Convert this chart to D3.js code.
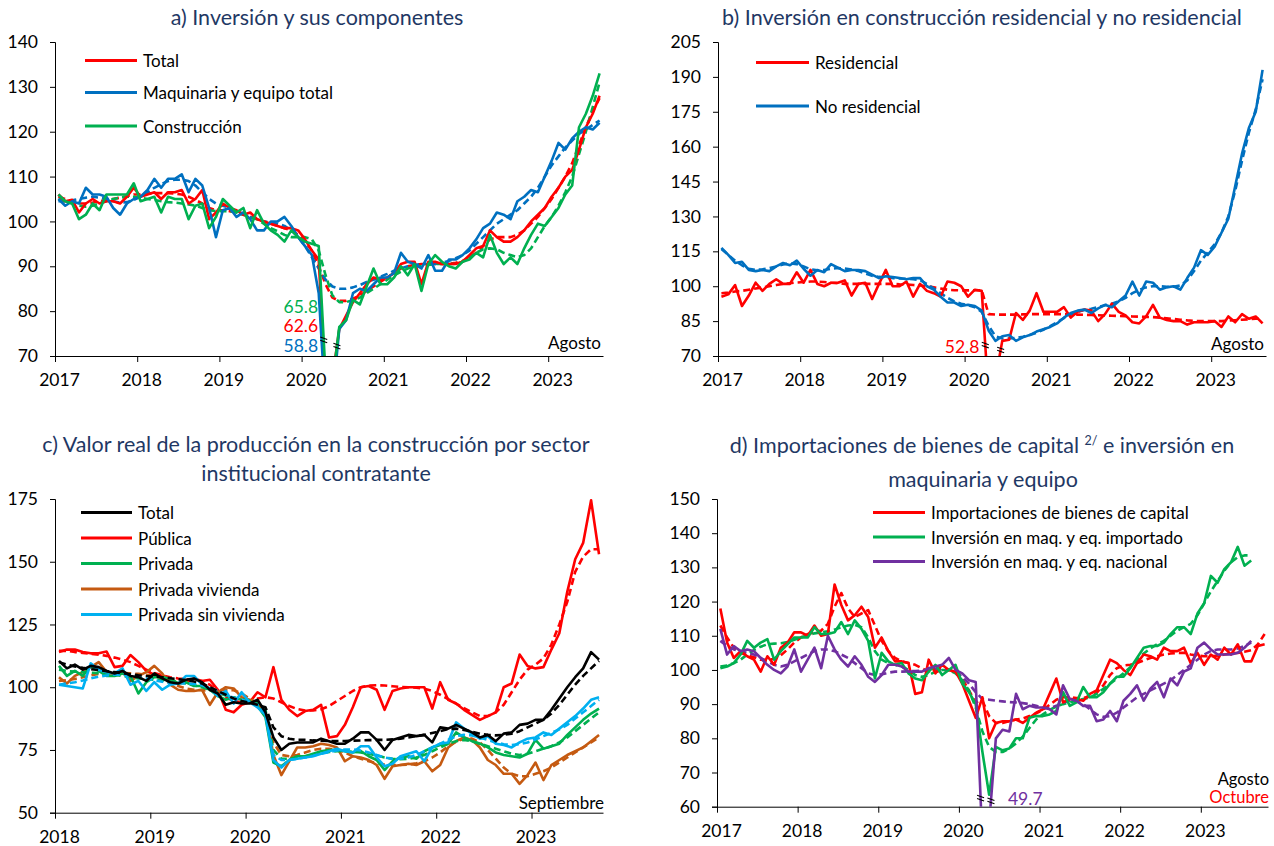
<!DOCTYPE html>
<html>
<head>
<meta charset="utf-8">
<script src="https://cdn.jsdelivr.net/npm/d3@7"></script>
<style>
  body { margin: 0; background: #fff; }
  svg { display: block; }
  text { font-family: Lato, "Open Sans", "DejaVu Sans", sans-serif; }
</style>
</head>
<body>
<svg id="chart" width="1274" height="846"></svg>
<script>
// ---------- Panel a: Inversión y sus componentes (ene 2017 – ago 2023) ----------
const yearsA = ["2017", "2018", "2019", "2020", "2021", "2022", "2023"];
const totalA = [
  106, 104.5, 104.8, 102, 104, 105, 104, 104.5, 104.5, 104, 105.5, 107.5,
  105.5, 106, 106.5, 105, 106.5, 106.5, 107, 104, 105, 107, 100.5, 102,
  104, 103, 102.5, 101.5, 102, 100.5, 100, 99.5, 99, 98.5, 98.5, 98,
  96, 93.5, 91.5, 62.6, 65, 76, 79, 82, 84, 86, 87.5, 87,
  87.5, 88.5, 90.5, 91, 91, 86, 91, 91, 90.5, 90.5, 90.5, 91,
  92.5, 94, 94.5, 98, 96.5, 95.5, 95.5, 96.5, 98, 100, 101.5, 103,
  105.5, 107.5, 110, 111.5, 116, 121, 124, 128
];
const totalTrendA = [
  105.5, 105, 104.5, 104, 104, 104.2, 104.5, 104.8, 105, 105.3, 105.6, 106,
  106, 106.2, 106.3, 106.3, 106.3, 106.2, 106, 105.5, 104.8, 104, 103, 102.5,
  102.5, 102.3, 102, 101.5, 101, 100.5, 100, 99.5, 99, 98.5, 98, 97,
  95.5, 93.5, 90, 86, 83, 82.3, 82.3, 82.8, 83.5, 84.5, 85.5, 86.5,
  87.5, 88.5, 89.5, 90, 90.3, 90.5, 90.5, 90.5, 90.5, 90.5, 90.8, 91.2,
  92, 93, 94.5, 96, 96.5, 96.5, 96.5, 97, 98, 99.5, 101, 103,
  105, 107.5, 110, 113, 117, 121, 124.5, 127.5
];
const maqA = [
  105, 103.5, 104.5, 104, 107.5, 106, 106, 105.5, 103, 101.5, 104, 105,
  105.5, 107, 109.5, 107.5, 109.5, 109.5, 110.5, 106.5, 109.5, 108, 103, 96.5,
  102.5, 103, 101, 102, 100.5, 98, 98, 100, 100, 101, 99, 96.5,
  94.5, 92.5, 84, 58.8, 60, 76, 78, 84, 85, 84.5, 86, 87.5,
  87.5, 88.5, 93, 91, 90.5, 89.5, 92.5, 89, 89, 91.5, 91.5, 92.5,
  94, 96, 98.5, 99.5, 102, 101.5, 100.5, 104.5, 105.5, 107, 106.5, 110,
  113.5, 117.5, 116, 118.5, 120, 121, 120.5, 122
];
const maqTrendA = [
  104.5, 104.5, 104.7, 105, 105.3, 105.5, 105.3, 105, 104.5, 104.2, 104.3, 104.8,
  105.5, 106.5, 107.5, 108.3, 109, 109.3, 109.3, 109, 108, 106.5, 105, 104,
  103.5, 103, 102.3, 101.7, 101, 100.5, 100, 99.8, 99.5, 99, 98, 96.5,
  94.5, 92, 89.5, 87, 85.5, 85, 85, 85.3, 85.8, 86.5, 87, 87.7,
  88.3, 89, 89.5, 90, 90.3, 90.5, 90.5, 90.5, 90.8, 91.2, 91.8, 92.5,
  93.5, 95, 96.5, 98, 99.5, 100.5, 101.5, 102.5, 104, 105.5, 107.5, 110,
  112.5, 114.5, 116.5, 118, 119.5, 120.5, 121.5, 122.5
];
const consA = [
  106, 104.5, 104, 100.5, 101.5, 104, 102.5, 106, 106, 106, 106, 108.5,
  104.5, 105, 105.5, 102, 105.5, 105, 105, 100.5, 103.5, 104, 98.5, 101,
  105, 103.5, 102, 103, 98.5, 102.5, 99.5, 98, 97, 95.5, 98, 96.5,
  95.5, 95, 94.5, 65.8, 64, 76.5, 78, 82.5, 81.5, 85.5, 89.5, 86,
  86, 87.5, 90, 88, 90.5, 84.5, 90.5, 92.5, 91, 90, 89.5, 91,
  91.5, 93, 92, 97, 93, 90.5, 92, 90.5, 94, 97, 99.5, 99,
  101, 103, 106, 108, 121, 124, 128, 133
];
const consTrendA = [
  105, 104.5, 104, 103.5, 103.3, 103.5, 104, 104.5, 105, 105.3, 105.5, 105.5,
  105.3, 105, 104.8, 104.5, 104.3, 104.2, 104, 103.8, 103.5, 103, 102.5, 102.3,
  102.3, 102.3, 102, 101.5, 101, 100.5, 99.5, 98.5, 97.8, 97, 96.5, 96.5,
  96.5, 96, 93.5, 88, 83.5, 82, 82, 82.5, 83, 84, 85, 86,
  87, 88, 88.8, 89.5, 90, 90, 90.3, 90.5, 90.5, 90.5, 90.5, 91,
  92, 93, 93.8, 94, 93.8, 93, 92.5, 92, 92.5, 94, 96.5, 99,
  101, 103.5, 106.5, 110, 115, 120, 125.5, 131
];

// ---------- Panel b: construcción residencial y no residencial ----------
const yearsB = ["2017", "2018", "2019", "2020", "2021", "2022", "2023"];
const resB = [
  95.5, 96.5, 100.5, 91.5, 96, 101.5, 98, 101, 103, 101, 101, 106,
  101.5, 107, 101, 100, 101.5, 101.5, 102.5, 96, 101, 101.5, 94.5, 101,
  107, 100, 100, 102, 95.5, 101, 98, 97, 95.5, 102, 101.5, 100,
  95.5, 98.5, 98, 52.8, 60, 76.5, 77, 88.5, 85.5, 89.5, 97, 89,
  89, 89, 91, 86.5, 89, 90, 89.5, 85, 88, 92.5, 89, 87.5,
  84.5, 84, 87, 92, 86.5, 85.5, 85, 85, 83.5, 84.5, 84.5, 84.5,
  85, 82.5, 87, 84.5, 88, 86, 87, 84
];
const resTrendB = [
  97, 97.3, 97.7, 98, 98.5, 99, 99.5, 100, 100.5, 101, 101.3, 101.6,
  101.8, 102, 102, 101.8, 101.5, 101.3, 101, 101, 101, 101, 101, 101,
  101, 101, 100.8, 100.7, 100.5, 100.3, 100, 99.5, 99, 98.5, 98.3, 98.2,
  98.2, 98.3, 98.3, 88, 87.8, 87.8, 87.8, 87.8, 87.9, 88, 88, 88,
  88, 88, 88, 87.9, 87.8, 87.7, 87.6, 87.5, 87.4, 87.3, 87.2, 87.1,
  87, 86.9, 86.8, 86.7, 86.5, 86.2, 85.9, 85.6, 85.3, 85.1, 85, 85,
  85, 85, 85.2, 85.4, 85.6, 85.8, 86, 86
];
const noResB = [
  116.5, 113.5, 110, 110.5, 107, 106.5, 107, 106.5, 108.5, 110, 109, 111,
  107.5, 104.5, 107, 106, 109.5, 108, 106.5, 107, 107, 106.5, 105, 103.5,
  104.3, 104, 103.5, 103, 103.5, 103.5, 100, 98.5, 95.5, 93, 93, 91.5,
  92, 91.5, 89.5, 81, 76.5, 78.5, 79, 76.5, 78, 79, 80.5, 81.5,
  82.5, 84, 86.5, 88.5, 89.5, 90, 88.5, 90.5, 92, 91, 93.5, 96,
  102, 96, 102, 101.5, 98.5, 99.5, 100, 98.5, 103.5, 108, 115.5, 113.5,
  117, 123, 129, 143, 157, 168, 175, 193
];
const noResTrendB = [
  116, 113.5, 111, 109, 107.5, 107, 107.3, 107.8, 108.5, 109.3, 109.8, 109.5,
  108.5, 107.3, 106.8, 107, 107.5, 107.8, 107.6, 107.2, 106.5, 105.5, 104.5, 104,
  103.8, 103.5, 103.3, 103.2, 103, 102.6, 101, 99, 97, 95, 93.5, 92.5,
  91.8, 91, 89, 83, 78.5, 77.5, 77.5, 77.8, 78.3, 79, 80, 81.3,
  82.8, 84.5, 86.3, 87.8, 89, 89.8, 90.3, 91, 91.8, 92.5, 93.5, 95,
  97, 98.5, 99.5, 100, 100, 99.8, 99.8, 100.3, 102.5, 106.5, 111, 114.5,
  118, 123, 130, 141, 154, 166, 176, 189
];

// ---------- Panel c: valor real de la producción (ene 2018 – sep 2023) ----------
const yearsC = ["2018", "2019", "2020", "2021", "2022", "2023"];
const totalC = [
  110.5, 107.5, 109, 107, 108.5, 108, 106.5, 105.5, 106.5, 104.5, 104, 102.5,
  105.5, 103.5, 102, 101.5, 103, 103.5, 102, 99, 97.5, 93, 94, 93.5,
  93.5, 95, 90, 80, 75, 77.5, 78, 78, 78, 79.5, 78.5, 77.5,
  77.5, 79.5, 82, 82, 79, 75, 79, 80, 81, 80.5, 81, 78,
  84, 83.5, 85, 83.5, 82, 80, 81, 78.5, 81.5, 82, 85, 85.5,
  87, 87, 91, 95.5, 100, 104, 107.5, 114, 111
];
const totalTrendC = [
  110, 109, 108.3, 107.7, 107.2, 106.8, 106.4, 106, 105.6, 105.2, 104.8, 104.5,
  104.3, 104, 103.6, 103.2, 102.8, 102.3, 101.5, 100, 98.5, 97, 95.5, 94.5,
  93.8, 93, 92, 84, 80.5, 79.5, 79, 79, 78.8, 78.7, 78.6, 78.6,
  78.6, 78.7, 78.8, 78.9, 79, 79, 79.2, 79.5, 80, 80.5, 81, 81.8,
  82.5, 83.3, 83.5, 83, 82.3, 81.5, 81, 80.8, 81, 81.5, 82.5, 84,
  85.5, 87, 89.5, 93, 97, 101, 104.5, 107.5, 110.5
];
const publicaC = [
  114, 115, 115, 114, 113.5, 113.5, 114.2, 108, 108.5, 112.8, 110, 106.5,
  105, 104.5, 103, 101.5, 102, 103.5, 102.5, 103, 99, 91, 90, 93,
  94, 98, 96, 108, 95, 91, 88.5, 90.5, 91, 93, 80, 80.5,
  85, 92, 100, 100.5, 99, 91, 98.5, 99.5, 100, 100, 100, 91.5,
  102, 95, 93.5, 91, 89, 87, 88.5, 90, 100, 101.5, 113, 108.5,
  107.5, 108, 115, 121.5, 138, 151, 157.5, 174.5, 153
];
const publicaTrendC = [
  114.5, 114.5, 114, 113.7, 113.3, 113, 112.5, 111.8, 111, 110, 108.5, 107,
  105.7, 104.7, 104, 103.5, 103.2, 103, 102.5, 101, 98.5, 96, 94.5, 94,
  94.5, 95.5, 96, 95.5, 94, 92.5, 91.3, 90.7, 90.7, 91.2, 92.5, 94.5,
  96.5, 98.5, 100, 100.7, 100.8, 100.7, 100.4, 100.1, 100, 99.8, 99.4, 98.5,
  97, 95.3, 93.5, 91.7, 90, 88.5, 88.5, 90, 93, 98, 103, 107,
  109, 111.5, 117, 125, 134, 146, 152, 155, 155
];
const privadaC = [
  108.5, 104.5, 106.5, 104.5, 108.5, 106.5, 104.5, 104.5, 105.5, 104.5, 97.5, 102,
  104, 104, 103.5, 101.5, 102, 100.5, 100.5, 99, 96.5, 95, 96, 95,
  94.5, 92.5, 88, 70, 68.5, 71, 72.5, 72.5, 73.5, 74.5, 75, 75,
  74.5, 74, 74.5, 72.5, 71, 67, 70.5, 72, 72.5, 71.5, 74.5, 76,
  77, 77.5, 82, 80, 78.5, 77.5, 76, 74, 73, 72.5, 72, 73.5,
  79, 75.5, 76.5, 77.5, 81, 84, 87, 89.5, 91.5
];
const privadaTrendC = [
  107, 106.5, 106.2, 106, 105.8, 105.6, 105.4, 105, 104.5, 104, 103.5, 103.2,
  103, 102.8, 102.5, 102, 101.5, 100.8, 100, 99, 97.8, 96.7, 95.8, 95.2,
  94.7, 93.8, 91, 75, 71.5, 71.5, 72, 72.5, 73.2, 73.8, 74.2, 74.5,
  74.5, 74.3, 74, 73.5, 72.8, 72, 71.5, 71.3, 71.5, 72, 73, 74.5,
  76, 77.5, 78.5, 79, 78.5, 77.5, 76.5, 75.5, 74.5, 73.5, 73, 73.5,
  74.5, 75.5, 76.5, 78, 80, 82.5, 85, 87.5, 90
];
const viviendaC = [
  104, 101.5, 104.5, 106, 108, 110, 106, 105, 106, 102.5, 104.5, 106,
  108.5, 105.5, 101, 99, 98.5, 98.5, 99, 93, 98, 100, 99.5, 96,
  95, 93.5, 90.5, 73, 65, 70.5, 76, 76, 76.5, 77.5, 77, 76,
  70.5, 72.5, 72, 71, 69, 63.5, 68.5, 69, 69.5, 69, 70.5, 66.5,
  69, 76, 78.5, 80, 79, 76, 71, 69, 65.5, 65.5, 61.5, 65,
  70, 63, 69, 71, 73, 74.5, 76, 78.5, 81
];
const viviendaTrendC = [
  102.5, 102.8, 103.3, 104, 104.7, 105.3, 105.7, 105.8, 105.7, 105.5, 105.3, 105,
  104.5, 103.5, 102, 100.5, 99.5, 99, 98.8, 98.7, 98.8, 99, 98.8, 97.5,
  95.5, 93.5, 89, 78, 73, 72.5, 73, 74, 75, 75.5, 75.5, 75,
  74, 72.5, 71.5, 70.5, 69.8, 69.2, 69, 69, 69.2, 69.7, 70.5, 72,
  74, 76.5, 78.3, 79.5, 79.5, 78, 75, 71.5, 68, 65.5, 64.5, 64.5,
  65.5, 66.5, 68, 70, 72, 74, 76, 78, 80
];
const sinViviendaC = [
  101, 100.5, 100, 99.5, 109.5, 107, 106, 105.5, 107.5, 101, 102.5, 98.5,
  102, 99, 101, 101.5, 104.5, 104.5, 101, 99.5, 96.5, 98.5, 93.5, 98,
  94, 92, 89, 71, 68, 71, 71.5, 72, 72.5, 73.5, 74.5, 75.5,
  74.5, 74, 76.5, 76.5, 72, 68.5, 69.5, 72.5, 73.5, 74.5, 70.5, 76,
  77.5, 78, 86, 83.5, 81.5, 79.5, 80.5, 77.5, 77, 76, 78, 79.5,
  80, 82, 81, 83.5, 86, 88.5, 91.5, 95, 96
];
const sinViviendaTrendC = [
  101, 101.5, 102, 102.7, 103.5, 104.2, 104.7, 105, 105, 104.7, 104.2, 103.5,
  102.8, 102.2, 101.8, 101.6, 101.5, 101.3, 100.8, 99.8, 98.5, 97, 95.8, 95,
  94.2, 93, 89.5, 73, 71, 71, 71.5, 72, 72.7, 73.5, 74.2, 74.8,
  75.2, 75.2, 74.8, 74, 73, 72, 71.5, 71.5, 72, 73, 74.5, 76,
  77.5, 79, 80.5, 81, 80.8, 80, 79, 78, 77.3, 77, 77.3, 78,
  79.2, 80.5, 81.8, 83.2, 85, 87.5, 90, 92.5, 95
];

// ---------- Panel d: importaciones e inversión en maquinaria ----------
const yearsD = ["2017", "2018", "2019", "2020", "2021", "2022", "2023"];
const importD = [
  118, 108, 103.5, 105.5, 104, 103, 99.5, 104, 101.5, 106.5, 108, 111,
  111, 110, 113, 110, 110.5, 125, 119, 114.5, 116, 118.5, 115.5, 106.5,
  109.5, 105.5, 102.5, 102.5, 102, 93, 93.5, 103, 99, 101.5, 100, 99.5,
  96, 91, 86, 92, 80, 84.5, 85, 85, 85.5, 84.5, 86, 87.5,
  88.5, 93, 97.5, 90.5, 91.5, 91.5, 91, 93, 94, 98.5, 103, 102,
  100, 98.5, 102, 104.5, 104, 103, 106.5, 105.5, 105.5, 106.5, 102, 105,
  101.5, 104.5, 103, 106.5, 104.5, 107.5, 102.5, 102.5, 107, 107.5
];
const importTrendD = [
  113, 109.5, 106.5, 105, 104.3, 103.7, 103, 102.8, 103.3, 104.3, 106, 108,
  109.5, 110.5, 111, 111.5, 113.5, 118.5, 122.5, 118, 115.5, 116.5, 117.5, 113,
  108.5, 105.5, 103.5, 102.5, 102, 101.5, 100.5, 99.5, 99.5, 99.8, 100, 99.5,
  97.5, 94, 90.5, 91, 86.5, 84.5, 84.5, 85, 85.5, 85.8, 86.5, 87.3,
  88.3, 89.8, 91.3, 92, 92, 91.8, 91.8, 92.2, 93.3, 95.5, 98.5, 100.5,
  101.3, 101.5, 102, 102.8, 103.5, 104, 104.5, 104.8, 105, 105, 104.5, 104.2,
  104, 104, 104.2, 104.5, 104.8, 105, 105.3, 105.8, 107.5, 110.5
];
const importadoD = [
  100.5, 101, 102, 104.5, 108.5, 106.5, 108, 109, 103, 105.5, 107.5, 109.5,
  109.5, 109.5, 112.5, 110.5, 110.5, 111, 114, 110.5, 114.5, 112, 108.5, 97.5,
  105, 102.5, 101.5, 102, 99, 97.5, 97, 99.5, 101.5, 98.5, 100, 101.5,
  96, 93.5, 90, 76, 63.5, 77.5, 76.5, 77, 80, 80, 86, 86.5,
  86.5, 87, 88, 93.5, 89.5, 90.5, 95, 92, 92, 93.5, 96, 98,
  98, 100.5, 103.5, 106.5, 107, 107, 108, 110.5, 112.5, 112.5, 110.5, 116.5,
  119.5, 127.5, 125.5, 129.5, 131.5, 136, 130.5, 132
];
const importadoTrendD = [
  101, 101.3, 102, 103, 104.5, 105.8, 106.8, 107.5, 107.7, 107.8, 108.2, 108.8,
  109.5, 110.2, 110.7, 111, 111.3, 111.8, 112.5, 113, 113.2, 112.5, 109.5, 105.5,
  103, 102, 101.5, 101, 100, 98.5, 98, 98.5, 99.5, 100, 100, 99,
  97, 94, 89, 82, 77.5, 76, 76, 77, 78.5, 80.5, 83, 85.5,
  87, 88.3, 89.3, 90, 90.5, 91, 91.5, 92, 93, 94.5, 96, 97.5,
  99, 100.8, 102.8, 104.8, 106.3, 107.5, 108.5, 110, 111.5, 112.5, 113.5, 116,
  119.5, 123, 126, 129, 131.5, 133, 133.5, 133.5
];
const nacionalD = [
  112, 104.5, 107, 105.5, 106, 105.5, 103.5, 101.5, 100, 99, 101, 106,
  99.5, 103, 106.5, 100.5, 110, 106, 103, 101, 104, 101.5, 98, 96.5,
  98.5, 101.5, 101.5, 101, 99.5, 99.5, 99.5, 100.5, 101, 101.5, 103.5, 100,
  99, 97, 96.5, 49.7, 55, 80, 82.5, 82, 93, 88.5, 89.5, 89,
  89, 88.5, 87, 95.5, 91.5, 91, 89.5, 89.5, 85, 85.5, 88, 85,
  91, 93, 95.5, 91, 94.5, 96.5, 92, 97.5, 95.5, 99.5, 100.5, 106.5,
  108, 106, 104.5, 104.5, 104.5, 105, 106.5, 108.5
];
const nacionalTrendD = [
  108.5, 107, 106, 105.5, 105, 104.5, 103.5, 102.5, 101.5, 101, 101.5, 102.5,
  103.5, 104.5, 105.5, 106, 106, 105.5, 104.5, 103.5, 102, 100.5, 99, 98.5,
  98.7, 99.2, 99.5, 99.5, 99.6, 99.7, 99.8, 100, 100.2, 100.3, 100.2, 99.5,
  98, 96, 93.5, 91.5, 91.3, 91, 90.8, 90.6, 90.5, 90.3, 90, 89.5,
  89, 88.8, 89.5, 90.5, 91, 90.8, 90, 88.5, 87, 86.3, 86.5, 87.5,
  89, 90.5, 92, 93, 94, 95, 96, 97, 98.5, 100, 101.5, 103,
  104.5, 105.5, 106, 106, 106, 106.3, 107, 108
];

// ---------- colours ----------
const RED = "#ff0000", BLUE = "#0070c0", GREEN = "#00b050", BLACK = "#000000",
      BROWN = "#c55a11", CYAN = "#00b0f0", PURPLE = "#7030a0", TITLE = "#1f3864";
const FONT = "Lato, 'Open Sans', sans-serif";

const svg = d3.select("#chart");

// Draws one panel: axes, series, legend, notes and break marks
function drawPanel(p) {
  const g = svg.append("g");
  const x = d3.scaleLinear().domain([0, p.months]).range([p.left, p.right]);
  const y = d3.scaleLinear().domain([p.yMin, p.yMax]).range([p.bottom, p.top]);
  const clipId = "clip-" + p.id;

  g.append("clipPath").attr("id", clipId).append("rect")
    .attr("x", p.left).attr("y", p.top - 4)
    .attr("width", p.right - p.left + 4).attr("height", p.bottom - p.top + 4);

  // title
  p.title.forEach(t => {
    const tx = g.append("text").attr("x", t.x).attr("y", t.y)
      .attr("text-anchor", "middle").attr("fill", TITLE)
      .style("font-size", "21.5px");
    t.parts.forEach(part => {
      if (part.sup) {
        tx.append("tspan").text(part.text).attr("dy", -8).style("font-size", "12.5px");
        tx.append("tspan").text("\u00a0").attr("dy", 8);
      } else {
        tx.append("tspan").text(part.text);
      }
    });
  });

  // y axis
  const yTicks = d3.range(p.yMin, p.yMax + 0.001, p.yStep);
  const yAxis = g.append("g").attr("transform", `translate(${p.left},0)`)
    .call(d3.axisLeft(y).tickValues(yTicks).tickSize(5).tickPadding(12).tickFormat(d3.format("d")));
  yAxis.select(".domain").attr("stroke", "#000").attr("stroke-width", 1);
  yAxis.selectAll(".tick line").attr("stroke", "#000");
  yAxis.selectAll("text").attr("fill", "#000").style("font-size", "17.5px")
    .style("font-family", FONT);

  // x axis with yearly ticks on month boundaries
  const xTickVals = p.years.map((_, i) => i * 12);
  const xAxis = g.append("g").attr("transform", `translate(0,${p.bottom})`)
    .call(d3.axisBottom(x).tickValues(xTickVals).tickSize(6).tickSizeOuter(0)
      .tickFormat((d, i) => p.years[i]));
  xAxis.select(".domain").attr("stroke", "#000").attr("stroke-width", 1);
  xAxis.selectAll(".tick line").attr("stroke", "#000");
  xAxis.selectAll("text").attr("fill", "#000").style("font-size", "17.5px")
    .style("font-family", FONT)
    .attr("dx", 4).attr("y", 24).attr("dy", "0.35em");

  // series
  const line = d3.line().x((d, i) => x(i + 0.5)).y(d => y(d));
  const lines = g.append("g").attr("clip-path", `url(#${clipId})`);
  p.series.forEach(s => {
    lines.append("path").datum(s.values)
      .attr("d", line).attr("fill", "none")
      .attr("stroke", s.color).attr("stroke-width", 2.6)
      .attr("stroke-linejoin", "round")
      .attr("stroke-dasharray", s.dashed ? "7,4" : null);
  });

  // legend
  p.legend.rows.forEach(r => {
    g.append("line").attr("x1", p.legend.x1).attr("x2", p.legend.x2)
      .attr("y1", r.y).attr("y2", r.y)
      .attr("stroke", r.color).attr("stroke-width", 3);
    g.append("text").attr("x", p.legend.tx).attr("y", r.y)
      .attr("dominant-baseline", "central").attr("fill", "#000")
      .style("font-size", "17px").text(r.label);
  });

  // notes (values and month)
  p.notes.forEach(n => {
    g.append("text").attr("x", n.x(x)).attr("y", n.y(y))
      .attr("text-anchor", n.anchor).attr("dominant-baseline", "central")
      .attr("fill", n.color).style("font-size", (n.size || 17.5) + "px").text(n.text);
  });

  // break marks where a series leaves and re-enters the axis range
  p.breaks.forEach(b => {
    const v = b.series, i0 = b.from, v0 = v[i0], v1 = v[i0 + 1];
    const t = (b.at - v0) / (v1 - v0);
    const cx = x(i0 + 0.5 + t), cy = y(b.at);
    [-1.6, 1.6].forEach(off => {
      g.append("line")
        .attr("x1", cx - 3.5).attr("y1", cy + off - 1.2)
        .attr("x2", cx + 3.5).attr("y2", cy + off + 1.2)
        .attr("stroke", "#000").attr("stroke-width", 1.1);
    });
  });
}

// ---- a) ----
drawPanel({
  id: "a", left: 55, right: 603, top: 42, bottom: 356,
  yMin: 70, yMax: 140, yStep: 10, months: totalA.length, years: yearsA,
  title: [{ x: 317, y: 25, parts: [{ text: "a) Inversión y sus componentes" }] }],
  series: [
    { values: totalTrendA, color: RED, dashed: true },
    { values: maqTrendA, color: BLUE, dashed: true },
    { values: consTrendA, color: GREEN, dashed: true },
    { values: totalA, color: RED },
    { values: maqA, color: BLUE },
    { values: consA, color: GREEN }
  ],
  legend: { x1: 85, x2: 137, tx: 143, rows: [
    { label: "Total", color: RED, y: 60.5 },
    { label: "Maquinaria y equipo total", color: BLUE, y: 92.5 },
    { label: "Construcción", color: GREEN, y: 126 }
  ] },
  notes: [
    { text: consA[39].toFixed(1), color: GREEN, anchor: "end", x: x => x(39) - 4, y: y => y(81) },
    { text: totalA[39].toFixed(1), color: RED, anchor: "end", x: x => x(39) - 4, y: y => y(76.7) },
    { text: maqA[39].toFixed(1), color: BLUE, anchor: "end", x: x => x(39) - 4, y: y => y(72.4) },
    { text: "Agosto", color: "#000", anchor: "end", x: x => x(80) - 2, y: y => y(73.1), size: 17 }
  ],
  breaks: [
    { series: consA, from: 38, at: 73.6 },
    { series: consA, from: 40, at: 72.2 }
  ]
});

// ---- b) ----
drawPanel({
  id: "b", left: 718, right: 1266, top: 42, bottom: 356,
  yMin: 70, yMax: 205, yStep: 15, months: resB.length, years: yearsB,
  title: [{ x: 982, y: 25, parts: [{ text: "b) Inversión en construcción residencial y no residencial" }] }],
  series: [
    { values: resTrendB, color: RED, dashed: true },
    { values: noResTrendB, color: BLUE, dashed: true },
    { values: resB, color: RED },
    { values: noResB, color: BLUE }
  ],
  legend: { x1: 756, x2: 809, tx: 815, rows: [
    { label: "Residencial", color: RED, y: 62.5 },
    { label: "No residencial", color: BLUE, y: 106 }
  ] },
  notes: [
    { text: resB[39].toFixed(1), color: RED, anchor: "end", x: x => x(38.6) - 3, y: y => y(74.2) },
    { text: "Agosto", color: "#000", anchor: "end", x: x => x(80) - 2, y: y => y(75.3), size: 17 }
  ],
  breaks: [
    { series: resB, from: 38, at: 74.7 },
    { series: resB, from: 40, at: 72.6 }
  ]
});

// ---- c) ----
drawPanel({
  id: "c", left: 55, right: 603, top: 499, bottom: 812.7,
  yMin: 50, yMax: 175, yStep: 25, months: totalC.length, years: yearsC,
  title: [
    { x: 316, y: 452, parts: [{ text: "c) Valor real de la producción en la construcción por sector" }] },
    { x: 316, y: 481, parts: [{ text: "institucional contratante" }] }
  ],
  series: [
    { values: publicaTrendC, color: RED, dashed: true },
    { values: publicaC, color: RED },
    { values: viviendaTrendC, color: BROWN, dashed: true },
    { values: viviendaC, color: BROWN },
    { values: privadaTrendC, color: GREEN, dashed: true },
    { values: privadaC, color: GREEN },
    { values: sinViviendaTrendC, color: CYAN, dashed: true },
    { values: sinViviendaC, color: CYAN },
    { values: totalTrendC, color: BLACK, dashed: true },
    { values: totalC, color: BLACK }
  ],
  legend: { x1: 81, x2: 132, tx: 138, rows: [
    { label: "Total", color: BLACK, y: 512.5 },
    { label: "Pública", color: RED, y: 538 },
    { label: "Privada", color: GREEN, y: 563.5 },
    { label: "Privada vivienda", color: BROWN, y: 589 },
    { label: "Privada sin vivienda", color: CYAN, y: 614.5 }
  ] },
  notes: [
    { text: "Septiembre", color: "#000", anchor: "end", x: x => x(69) + 1, y: y => y(54.2), size: 17 }
  ],
  breaks: []
});

// ---- d) ----
drawPanel({
  id: "d", left: 717, right: 1268, top: 499, bottom: 806.7,
  yMin: 60, yMax: 150, yStep: 10, months: importD.length, years: yearsD,
  title: [
    { x: 982, y: 453, parts: [
      { text: "d) Importaciones de bienes de capital " }, { text: "2/", sup: true },
      { text: "e inversión en" }
    ] },
    { x: 983, y: 487, parts: [{ text: "maquinaria y equipo" }] }
  ],
  series: [
    { values: importTrendD, color: RED, dashed: true },
    { values: importadoTrendD, color: GREEN, dashed: true },
    { values: nacionalTrendD, color: PURPLE, dashed: true },
    { values: importD, color: RED },
    { values: importadoD, color: GREEN },
    { values: nacionalD, color: PURPLE }
  ],
  legend: { x1: 873, x2: 925, tx: 931, rows: [
    { label: "Importaciones de bienes de capital", color: RED, y: 512.5 },
    { label: "Inversión en maq. y eq. importado", color: GREEN, y: 537 },
    { label: "Inversión en maq. y eq. nacional", color: PURPLE, y: 561.5 }
  ] },
  notes: [
    { text: nacionalD[39].toFixed(1), color: PURPLE, anchor: "start", x: x => x(43.3), y: y => y(62.5) },
    { text: "Agosto", color: "#000", anchor: "end", x: x => x(82) + 1, y: y => y(68.2), size: 16.5 },
    { text: "Octubre", color: RED, anchor: "end", x: x => x(82) + 1, y: y => y(62.9), size: 16.5 }
  ],
  breaks: [
    { series: nacionalD, from: 38, at: 62.5 },
    { series: nacionalD, from: 40, at: 61.7 }
  ]
});
</script>
</body>
</html>
